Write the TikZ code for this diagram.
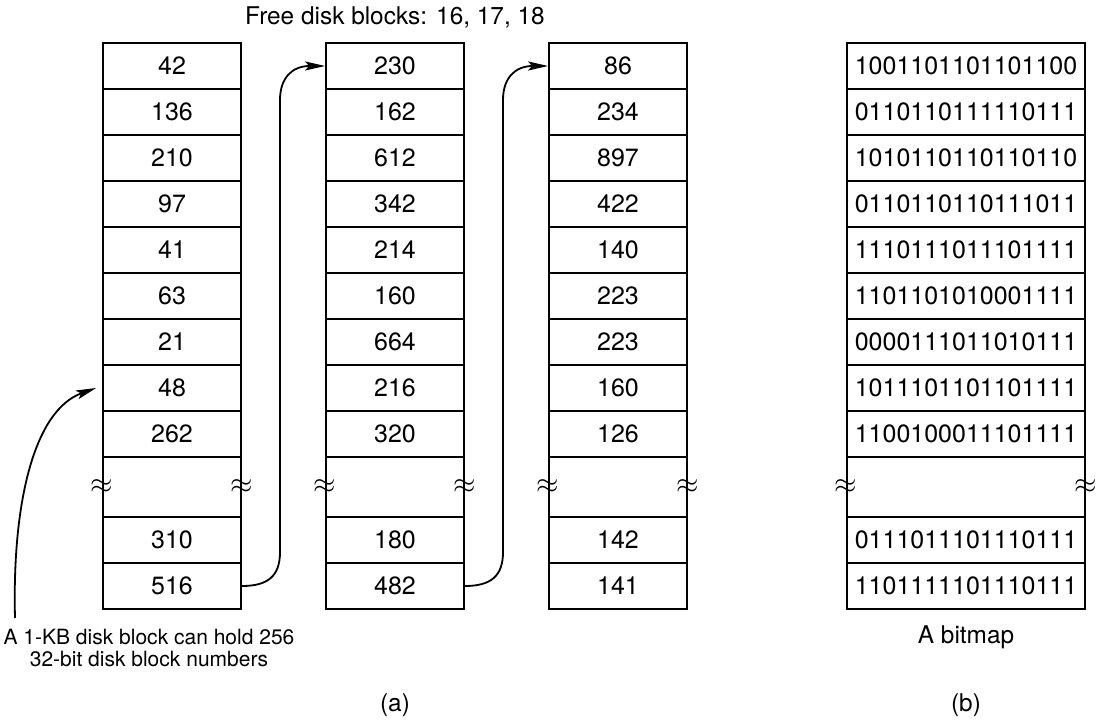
\documentclass[tikz,border=0pt]{standalone}
\usepackage{fontspec}
\setmainfont{TeX Gyre Heros}
\usetikzlibrary{arrows.meta}

\tikzset{
	cell/.style={draw, line width=0.9pt, minimum width=69pt, minimum height=23pt,
		inner sep=0pt, font=\fontsize{12.5}{14}\selectfont},
	bitcell/.style={cell, minimum width=119pt},
	gapcell/.style={cell, minimum height=30pt},
	brk/.style={inner sep=0pt, font=\fontsize{14}{15}\selectfont},
	link/.style={line width=0.9pt, -{Stealth[length=10pt, width=4.5pt, inset=2pt]}},
	lbl/.style={font=\fontsize{12.2}{13.5}\selectfont, align=center, inner sep=0pt}
}

\begin{document}
\begin{tikzpicture}[x=0.5pt, y=-0.5pt]
	\useasboundingbox (0,0) rectangle (1096,721);

	% free list blocks
	\foreach \v [count=\i] in {42,136,210,97,41,63,21,48,262}
		\node[cell] (a\i) at (172,20+46*\i) {\v};
	\node[gapcell] (ag) at (172,487) {};
	\node[cell] (a10) at (172,540) {310};
	\node[cell] (a11) at (172,586) {516};

	\foreach \v [count=\i] in {230,162,612,342,214,160,664,216,320}
		\node[cell] (b\i) at (395,20+46*\i) {\v};
	\node[gapcell] (bg) at (395,487) {};
	\node[cell] (b10) at (395,540) {180};
	\node[cell] (b11) at (395,586) {482};

	\foreach \v [count=\i] in {86,234,897,422,140,223,223,160,126}
		\node[cell] (c\i) at (618,20+46*\i) {\v};
	\node[gapcell] (cg) at (618,487) {};
	\node[cell] (c10) at (618,540) {142};
	\node[cell] (c11) at (618,586) {141};

	% bitmap
	\foreach \v [count=\i] in {1001101101101100,0110110111110111,1010110110110110,
			0110110110111011,1110111011101111,1101101010001111,
			0000111011010111,1011101101101111,1100100011101111}
		\node[bitcell] (d\i) at (966,20+46*\i) {\v};
	\node[gapcell, minimum width=119pt] (dg) at (966,487) {};
	\node[bitcell] (d10) at (966,540) {0111011101110111};
	\node[bitcell] (d11) at (966,586) {1101111101110111};

	% break marks
	\foreach \g in {ag,bg,cg,dg} {
		\node[brk] at (\g.west) {$\approx$};
		\node[brk] at (\g.east) {$\approx$};
	}

	% chain pointers
	\draw[link] (a11.east) .. controls (268,586) and (280,576) .. (280,552)
		-- (280,100) .. controls (280,78) and (292,66) .. (b1.west);
	\draw[link] (b11.east) .. controls (491,586) and (503,576) .. (503,552)
		-- (503,100) .. controls (503,78) and (515,66) .. (c1.west);

	% labels
	\node[lbl] (free) at (395,17) {Free disk blocks: 16, 17, 18};
	\node[lbl, font=\fontsize{10.5}{11}\selectfont] (note) at (149,648)
		{A 1-KB disk block can hold 256\\32-bit disk block numbers};
	\node[lbl] (bmap) at (966,637) {A bitmap};
	\node[lbl] (la) at (395,705) {(a)};
	\node[lbl] (lb) at (966,705) {(b)};

	\coordinate (tail) at (15,618);
	\draw[link] (tail) .. controls (12,500) and (35,410) .. ([xshift=-3pt]a8.west);
\end{tikzpicture}
\end{document}
